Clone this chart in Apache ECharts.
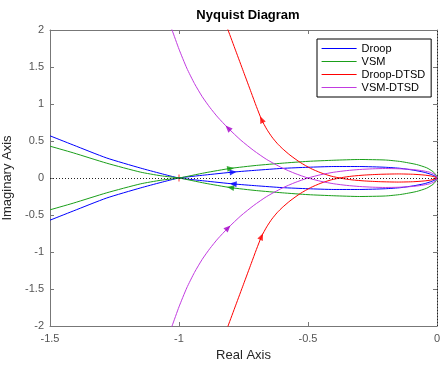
<!DOCTYPE html>
<html>
<head>
<meta charset="utf-8">
<script src="https://cdn.jsdelivr.net/npm/echarts@6/dist/echarts.min.js"></script>
<style>
  html, body { margin: 0; padding: 0; background: #fff; }
  #main { width: 440px; height: 366px; }
</style>
</head>
<body>
<div id="main"></div>
<script>
// axis ranges and tick step
var xRange = [-1.5, 0];
var yRange = [-2, 2];
var xStep = 0.5;
var yStep = 0.5;

var seriesNames = ["Droop", "VSM", "Droop-DTSD", "VSM-DTSD"];
var seriesColors = ["#0000ff", "#1a9f1a", "#ff0000", "#c13be0"];
var arrowColors = ["#0000ff", "#0a990a", "#ff0000", "#a400c8"];

// half of each Nyquist curve (Re, Im), from the far end to the origin;
// the other half is the mirror image about the real axis
var droopHalf = [
  [-1.5, 0.57], [-1.41, 0.446], [-1.28, 0.27], [-1.15, 0.135], [-1.07, 0.06],
  [-1.0, 0], [-0.9, -0.04], [-0.79, -0.08], [-0.7, -0.105], [-0.6, -0.13],
  [-0.5, -0.145], [-0.4, -0.155], [-0.3, -0.155], [-0.2, -0.145], [-0.14, -0.13],
  [-0.09, -0.105], [-0.05, -0.078], [-0.02, -0.045], [-0.005, -0.02], [0, 0]
];
var vsmHalf = [
  [-1.5, 0.43], [-1.41, 0.34], [-1.28, 0.2], [-1.15, 0.08], [-1.07, 0.03],
  [-1.0, 0], [-0.9, -0.07], [-0.8, -0.13], [-0.7, -0.17], [-0.6, -0.2],
  [-0.5, -0.225], [-0.4, -0.24], [-0.3, -0.25], [-0.2, -0.243], [-0.14, -0.222],
  [-0.08, -0.183], [-0.04, -0.138], [-0.015, -0.085], [-0.004, -0.04], [0, 0]
];
var droopDtsdHalf = [
  [-0.84, 2.28], [-0.81, 2.0], [-0.78, 1.718], [-0.75, 1.436], [-0.72, 1.154],
  [-0.70, 0.966], [-0.68, 0.79], [-0.66, 0.66], [-0.64, 0.555], [-0.62, 0.47],
  [-0.60, 0.40], [-0.57, 0.31], [-0.53, 0.21], [-0.49, 0.13], [-0.45, 0.07],
  [-0.41, 0.025], [-0.37, -0.005], [-0.33, -0.025], [-0.28, -0.04], [-0.22, -0.05],
  [-0.15, -0.055], [-0.09, -0.05], [-0.05, -0.04], [-0.02, -0.025], [0, 0]
];
var vsmDtsdHalf = [
  [-1.06, 2.3], [-1.027, 2.0], [-1.0, 1.741], [-0.97, 1.486], [-0.94, 1.276],
  [-0.91, 1.099], [-0.88, 0.952], [-0.85, 0.823], [-0.81, 0.675], [-0.76, 0.51],
  [-0.71, 0.37], [-0.66, 0.25], [-0.6, 0.136], [-0.55, 0.061], [-0.5, 0.0],
  [-0.45, -0.045], [-0.4, -0.078], [-0.35, -0.1], [-0.3, -0.115], [-0.25, -0.124],
  [-0.2, -0.128], [-0.15, -0.125], [-0.1, -0.116], [-0.06, -0.1], [-0.03, -0.08],
  [-0.012, -0.055], [-0.003, -0.028], [0, 0]
];
// index in each half where the direction arrow sits
var arrowIndex = [7, 7, 6, 8];
// critical point
var criticalPoint = [[-1, 0]];

var halves = [droopHalf, vsmHalf, droopDtsdHalf, vsmDtsdHalf];

function closeCurve(half) {
  var mirror = half.slice(0, -1).reverse().map(function (p) {
    return [p[0], -p[1]];
  });
  return half.concat(mirror);
}
var curves = halves.map(closeCurve);

var fontFamily = "'Liberation Sans', Arial, Helvetica, sans-serif";
var axisColor = "#777";

var myChart = echarts.init(document.getElementById("main"));

var lineSeries = curves.map(function (c, i) {
  return {
    name: seriesNames[i],
    type: "line",
    data: c,
    symbol: "none",
    smooth: 0.2,
    z: 3,
    lineStyle: { color: seriesColors[i], width: 1 },
    itemStyle: { color: seriesColors[i] },
  };
});

// dotted zero lines
lineSeries[0].markLine = {
  silent: true,
  symbol: "none",
  label: { show: false },
  lineStyle: { color: "#222", type: [1, 2], width: 1 },
  data: [{ yAxis: 0 }, { xAxis: 0 }],
};

var option = {
  animation: false,
  backgroundColor: "#fff",
  title: {
    text: "Nyquist Diagram",
    left: 243,
    textAlign: "center",
    top: 4,
    textStyle: { fontFamily: fontFamily, fontSize: 13, fontWeight: "bold", color: "#000" },
  },
  legend: {
    data: seriesNames,
    orient: "vertical",
    left: 317,
    top: 39,
    padding: [4, 6, 4, 4],
    itemWidth: 35,
    itemHeight: 12,
    itemGap: 2,
    itemStyle: { opacity: 0 },
    lineStyle: { width: 1.2 },
    borderColor: "#000",
    borderWidth: 1,
    backgroundColor: "#fff",
    textStyle: { fontFamily: fontFamily, fontSize: 11, color: "#000" },
  },
  grid: { left: 50, right: 3, top: 30, bottom: 40, containLabel: false, outerBoundsMode: "none" },
  xAxis: [
    {
      type: "value",
      min: xRange[0],
      max: xRange[1],
      interval: xStep,
      name: "Real Axis",
      nameLocation: "middle",
      nameGap: 21,
      nameTextStyle: { fontFamily: fontFamily, fontSize: 13, color: "#262626" },
      axisLine: { onZero: false, lineStyle: { color: axisColor } },
      axisTick: { inside: true, length: 4, lineStyle: { color: axisColor } },
      axisLabel: { margin: 7, fontFamily: fontFamily, fontSize: 11, color: "#555" },
      splitLine: { show: false },
    },
    {
      type: "value",
      position: "top",
      min: xRange[0],
      max: xRange[1],
      interval: xStep,
      axisLine: { onZero: false, lineStyle: { color: axisColor } },
      axisTick: { inside: true, length: 4, lineStyle: { color: axisColor } },
      axisLabel: { show: false },
      splitLine: { show: false },
    },
  ],
  yAxis: [
    {
      type: "value",
      min: yRange[0],
      max: yRange[1],
      interval: yStep,
      name: "Imaginary Axis",
      nameLocation: "middle",
      nameGap: 30,
      nameTextStyle: { fontFamily: fontFamily, fontSize: 13, color: "#262626" },
      axisLine: { show: true, onZero: false, lineStyle: { color: axisColor } },
      axisTick: { show: true, inside: true, length: 4, lineStyle: { color: axisColor } },
      axisLabel: { margin: 6, fontFamily: fontFamily, fontSize: 11, color: "#555" },
      splitLine: { show: false },
    },
    {
      type: "value",
      position: "right",
      min: yRange[0],
      max: yRange[1],
      interval: yStep,
      axisLine: { show: true, onZero: false, lineStyle: { color: axisColor } },
      axisTick: { show: true, inside: true, length: 4, lineStyle: { color: axisColor } },
      axisLabel: { show: false },
      splitLine: { show: false },
    },
  ],
  series: lineSeries.concat([
    {
      name: "critical",
      type: "scatter",
      data: criticalPoint,
      symbol: "path://M3,0h1v3h3v1h-3v3h-1v-3h-3v-1h3z",
      symbolSize: 7,
      z: 2,
      itemStyle: { color: "#ff0000" },
    },
  ]),
};

myChart.setOption(option);

// arrows: rotate along the curve, pointing against the data order
var arrowSeries = curves.map(function (c, i) {
  var n = halves[i].length;
  var idxs = [arrowIndex[i], 2 * n - 2 - arrowIndex[i]];
  var data = idxs.map(function (j) {
    var a = myChart.convertToPixel({ xAxisIndex: 0, yAxisIndex: 0 }, c[j + 1]);
    var b = myChart.convertToPixel({ xAxisIndex: 0, yAxisIndex: 0 }, c[j - 1]);
    var ang = (Math.atan2(-(b[1] - a[1]), b[0] - a[0]) * 180) / Math.PI;
    return { value: c[j], symbolRotate: ang - 90 };
  });
  return {
    name: "arrow-" + seriesNames[i],
    type: "scatter",
    data: data,
    symbol: "triangle",
    symbolSize: [6, 7],
    z: 4,
    itemStyle: { color: arrowColors[i] },
  };
});

myChart.setOption({ series: option.series.concat(arrowSeries) });
</script>
</body>
</html>
